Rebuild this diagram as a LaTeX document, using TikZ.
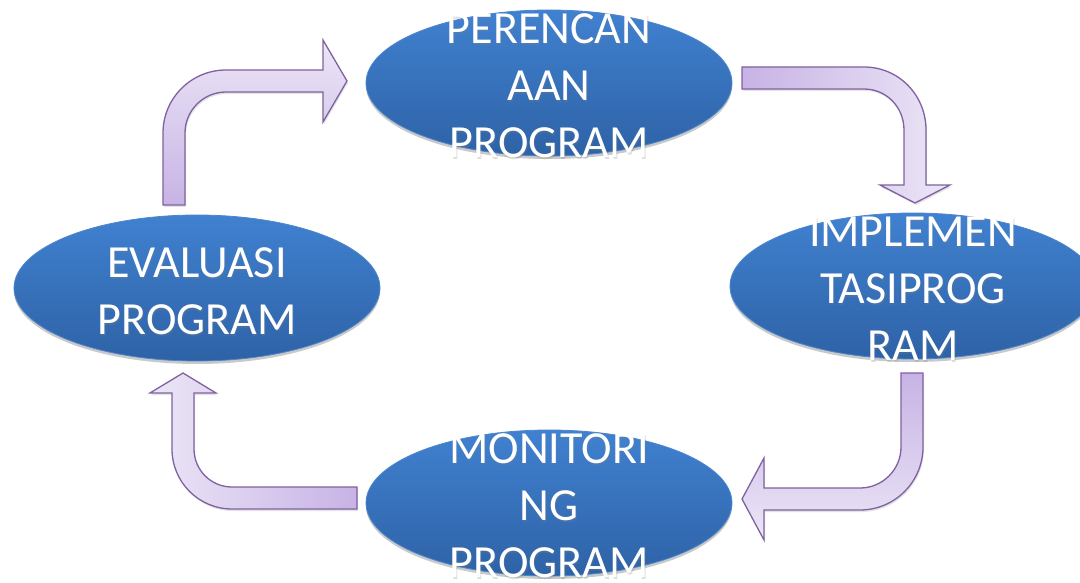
\documentclass[tikz,border=0pt]{standalone}
\usepackage{fontspec}
\setmainfont{Carlito}
\usetikzlibrary{shapes.geometric,shadows}

\definecolor{blueTop}{HTML}{4081D0}
\definecolor{blueBot}{HTML}{2E62A6}
\definecolor{blueRim}{HTML}{4C86CC}
\definecolor{lavDark}{HTML}{C7B3E5}
\definecolor{lavLight}{HTML}{ECE6F6}
\definecolor{lavLine}{HTML}{7E62A1}

\tikzset{
  bubble/.style={ellipse, minimum width=366pt, minimum height=146pt, inner sep=0pt,
    top color=blueTop, bottom color=blueBot, draw=blueRim, line width=0.8pt,
    drop shadow={opacity=0.3, shadow xshift=0pt, shadow yshift=-3pt, fill=black!70}},
  caption/.style={text=white, font=\fontsize{46}{57}\selectfont, align=center, inner sep=0pt},
  captionshade/.style={caption, text=black!50, text opacity=0.25},
  bentarrow/.style={draw=lavLine, line width=1.3pt, line join=miter,
    drop shadow={opacity=0.18, shadow xshift=1pt, shadow yshift=-2pt, fill=black!60}}
}

\begin{document}
\begin{tikzpicture}[x=1pt, y=-1pt]
\useasboundingbox (0,0) rectangle (1080,583);

% the four stages of the cycle
\node[bubble] (plan) at (549,83)  {};
\node[bubble] (impl) at (913,286) {};
\node[bubble] (mon)  at (549,503) {};
\node[bubble] (eval) at (197,288) {};

% stage captions, each with a faint shadow under it
\foreach \n/\t in {plan/{PERENCAN\\AAN\\PROGRAM},
                   impl/{IMPLEMEN\\TASIPROG\\RAM},
                   mon/{MONITORI\\NG\\PROGRAM},
                   eval/{EVALUASI\\PROGRAM}} {
  \node[captionshade] at ([xshift=1pt, yshift=-5pt]\n.center) {\t};
  \node[caption] (\n-text) at ([yshift=-3pt]\n.center) {\t};
}

% bent arrow: planning -> implementation (tail left, head down)
\path[bentarrow, left color=lavDark, right color=lavLight]
  (742,67) -- (864,67) .. controls (898.8,67) and (926,95.2) .. (926,130)
  -- (926,185) -- (950,185) -- (915,203) -- (880,185) -- (904,185)
  -- (904,130) .. controls (904,107.4) and (886.6,89) .. (864,89)
  -- (742,89) -- cycle;

% bent arrow: implementation -> monitoring (tail top, head left)
\path[bentarrow, top color=lavDark, bottom color=lavLight]
  (901,373) -- (923,373) -- (923,447) .. controls (923,481.8) and (894.8,510) .. (860,510)
  -- (764,510) -- (764,540) -- (742,499) -- (764,458) -- (764,488)
  -- (860,488) .. controls (882.6,488) and (901,469.6) .. (901,447) -- cycle;

% bent arrow: monitoring -> evaluation (tail right, head up)
\path[bentarrow, right color=lavDark, left color=lavLight]
  (357,487) -- (357,509) -- (232,509) .. controls (198.8,509) and (172,482.2) .. (172,449)
  -- (172,393) -- (150,393) -- (183,373) -- (216,393) -- (194,393)
  -- (194,449) .. controls (194,470) and (211,487) .. (232,487) -- cycle;

% bent arrow: evaluation -> planning (tail bottom, head right)
\path[bentarrow, bottom color=lavDark, top color=lavLight]
  (163,205) -- (163,133) .. controls (163,98.2) and (191.2,70) .. (226,70)
  -- (323,70) -- (323,40) -- (347,81) -- (323,122) -- (323,92)
  -- (226,92) .. controls (203.4,92) and (185,110.4) .. (185,133)
  -- (185,205) -- cycle;
\end{tikzpicture}
\end{document}
